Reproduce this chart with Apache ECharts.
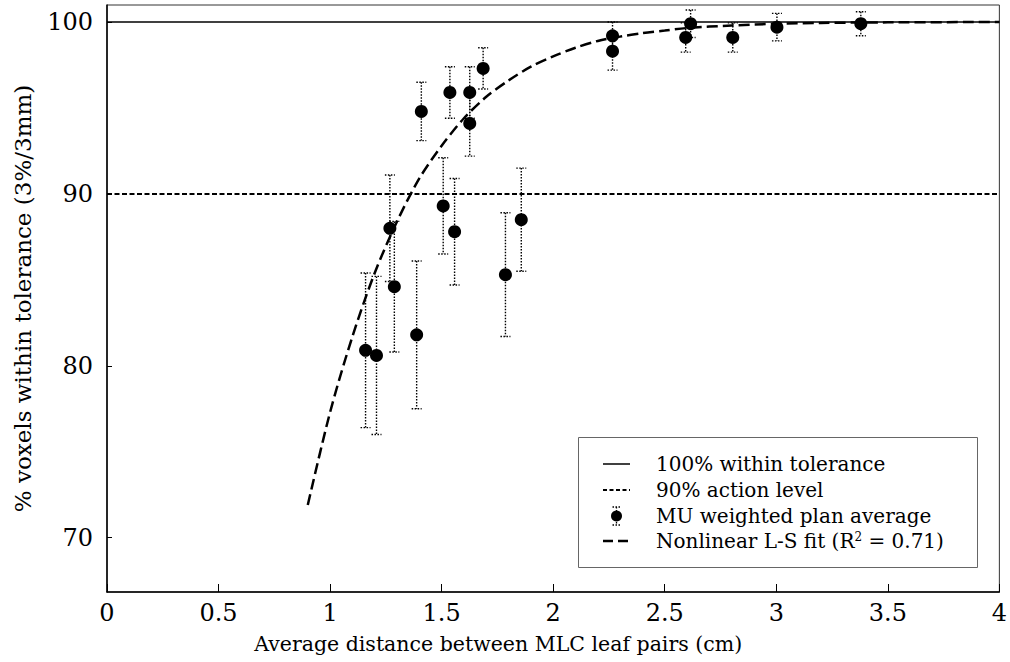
<!DOCTYPE html>
<html>
<head>
<meta charset="utf-8">
<script src="https://cdn.jsdelivr.net/npm/echarts@6/dist/echarts.min.js"></script>
<style>
html,body{margin:0;padding:0;background:#fff;}
#chart{width:1010px;height:662px;}
</style>
</head>
<body>
<div id="chart"></div>
<script>
// ---- data ----
const distance = [1.159, 1.208, 1.268, 1.288, 1.388, 1.409, 1.507, 1.537, 1.558, 1.626, 1.626, 1.686, 1.786, 1.857, 2.266, 2.266, 2.594, 2.616, 2.805, 3.003, 3.379];
const voxelPct = [80.9, 80.6, 88.0, 84.6, 81.8, 94.8, 89.3, 95.9, 87.8, 95.9, 94.1, 97.3, 85.3, 88.5, 99.2, 98.3, 99.1, 99.9, 99.1, 99.7, 99.9];
const errPct   = [4.5, 4.6, 3.1, 3.8, 4.3, 1.7, 2.8, 1.5, 3.1, 1.5, 1.9, 1.2, 3.6, 3.0, 0.8, 1.1, 0.85, 0.8, 0.85, 0.8, 0.7];
const fitX = [0.9, 1.0, 1.1, 1.2, 1.3, 1.4, 1.5, 1.6, 1.7, 1.8, 1.9, 2.0, 2.1, 2.2, 2.3, 2.4, 2.5, 2.6, 2.8, 3.0, 3.2, 3.5, 4.0];
const fitY = [71.9, 77.3, 81.7, 85.4, 88.4, 90.9, 92.8, 94.4, 95.65, 96.6, 97.4, 98.0, 98.5, 98.9, 99.15, 99.35, 99.5, 99.65, 99.8, 99.9, 99.95, 99.98, 100.0];
const xLimits = [0, 4];
const yTicks = [70, 80, 90, 100];
const fullLevel = 100;
const actionLevel = 90;
const legendNames = ['100% within tolerance', '90% action level', 'MU weighted plan average', 'Nonlinear L-S fit (R{sup|2} = 0.71)'];
const xTitle = 'Average distance between MLC leaf pairs (cm)';
const yTitle = '% voxels within tolerance (3%/3mm)';

const FONT = 'DejaVu Serif';
const chart = echarts.init(document.getElementById('chart'), null, {renderer: 'svg'});

const points = distance.map((x, i) => [x, voxelPct[i]]);
const errData = distance.map((x, i) => [x, voxelPct[i], errPct[i]]);
const fitData = fitX.map((x, i) => [x, fitY[i]]);

const lx = 603, lx2 = 630, tx = 656, rows = [464, 490, 516, 541];
const legendGraphics = [
  {type: 'rect', shape: {x: 578.5, y: 437.5, width: 399, height: 130}, style: {fill: '#fff', stroke: '#666', lineWidth: 1}, z: 100},
  {type: 'line', shape: {x1: lx, y1: rows[0], x2: lx2, y2: rows[0]}, style: {stroke: '#000', lineWidth: 1.5}, z: 101},
  {type: 'line', shape: {x1: lx, y1: rows[1], x2: lx2, y2: rows[1]}, style: {stroke: '#000', lineWidth: 2, lineDash: [4, 2.5]}, z: 101},
  {type: 'line', shape: {x1: 616.5, y1: rows[2] - 9, x2: 616.5, y2: rows[2] + 9}, style: {stroke: '#000', lineWidth: 1.3, lineDash: [1.5, 1.5]}, z: 101},
  {type: 'line', shape: {x1: 612.5, y1: rows[2] - 9, x2: 620.5, y2: rows[2] - 9}, style: {stroke: '#000', lineWidth: 1.3, lineDash: [1.5, 1.5]}, z: 101},
  {type: 'line', shape: {x1: 612.5, y1: rows[2] + 9, x2: 620.5, y2: rows[2] + 9}, style: {stroke: '#000', lineWidth: 1.3, lineDash: [1.5, 1.5]}, z: 101},
  {type: 'circle', shape: {cx: 616.5, cy: rows[2], r: 5.5}, style: {fill: '#000'}, z: 102},
  {type: 'line', shape: {x1: lx, y1: rows[3], x2: lx2, y2: rows[3]}, style: {stroke: '#000', lineWidth: 2.5, lineDash: [10, 5]}, z: 101}
];
legendNames.forEach((t, i) => {
  legendGraphics.push({
    type: 'text', x: tx, y: rows[i], z: 101,
    style: {
      text: t, fill: '#000', font: '20px "' + FONT + '"', verticalAlign: 'middle', align: 'left',
      rich: {sup: {fontSize: 12, fontFamily: FONT, verticalAlign: 'top', fill: '#000'}}
    }
  });
});

const option = {
  backgroundColor: '#fff',
  animation: false,
  grid: {left: 107, right: 7, top: 5, bottom: 70, show: true, borderColor: '#333', borderWidth: 1},
  xAxis: {
    type: 'value', min: xLimits[0], max: xLimits[1], interval: 0.5,
    name: xTitle, nameLocation: 'middle', nameGap: 41,
    nameTextStyle: {fontFamily: FONT, fontSize: 20.5, color: '#000', padding: [0, 110, 0, 0]},
    axisLine: {show: true, lineStyle: {color: '#000', width: 1.5}},
    axisTick: {show: true, inside: true, length: 8, lineStyle: {color: '#000', width: 1}},
    axisLabel: {fontFamily: FONT, fontSize: 24, color: '#000', margin: 9},
    splitLine: {show: false}
  },
  yAxis: {
    type: 'value', min: 66.84, max: 100.99,
    name: yTitle, nameLocation: 'middle', nameGap: 73,
    nameTextStyle: {fontFamily: FONT, fontSize: 23, color: '#000'},
    axisLine: {show: true, lineStyle: {color: '#000', width: 1.5}},
    axisTick: {show: true, inside: true, length: 5, customValues: yTicks, lineStyle: {color: '#000', width: 1}},
    axisLabel: {fontFamily: FONT, fontSize: 24, color: '#000', margin: 14, customValues: yTicks},
    splitLine: {show: false}
  },
  series: [
    {name: 'full', type: 'line', data: [[xLimits[0], fullLevel], [xLimits[1], fullLevel]], symbol: 'none',
     lineStyle: {color: '#000', width: 1.5, type: 'solid'}, z: 2},
    {name: 'action', type: 'line', data: [[xLimits[0], actionLevel], [xLimits[1], actionLevel]], symbol: 'none',
     lineStyle: {color: '#000', width: 2, type: [5, 2.5]}, z: 2},
    {name: 'err', type: 'custom', data: errData, z: 3,
     renderItem: function (params, api) {
       const x = api.value(0), y = api.value(1), e = api.value(2);
       const top = api.coord([x, y + e]);
       const bot = api.coord([x, y - e]);
       const st = {stroke: '#000', lineWidth: 1.4, lineDash: [1.5, 1.5], fill: null};
       return {type: 'group', children: [
         {type: 'line', shape: {x1: top[0], y1: top[1], x2: bot[0], y2: bot[1]}, style: st},
         {type: 'line', shape: {x1: top[0] - 5, y1: top[1], x2: top[0] + 5, y2: top[1]}, style: st},
         {type: 'line', shape: {x1: bot[0] - 5, y1: bot[1], x2: bot[0] + 5, y2: bot[1]}, style: st}
       ]};
     }},
    {name: 'points', type: 'scatter', data: points, symbol: 'circle', symbolSize: 13,
     itemStyle: {color: '#000', opacity: 1}, z: 4},
    {name: 'fit', type: 'line', data: fitData, symbol: 'none', smooth: 0.3,
     lineStyle: {color: '#000', width: 2.5, type: [11, 5]}, z: 5}
  ],
  graphic: legendGraphics
};
chart.setOption(option);
</script>
</body>
</html>
